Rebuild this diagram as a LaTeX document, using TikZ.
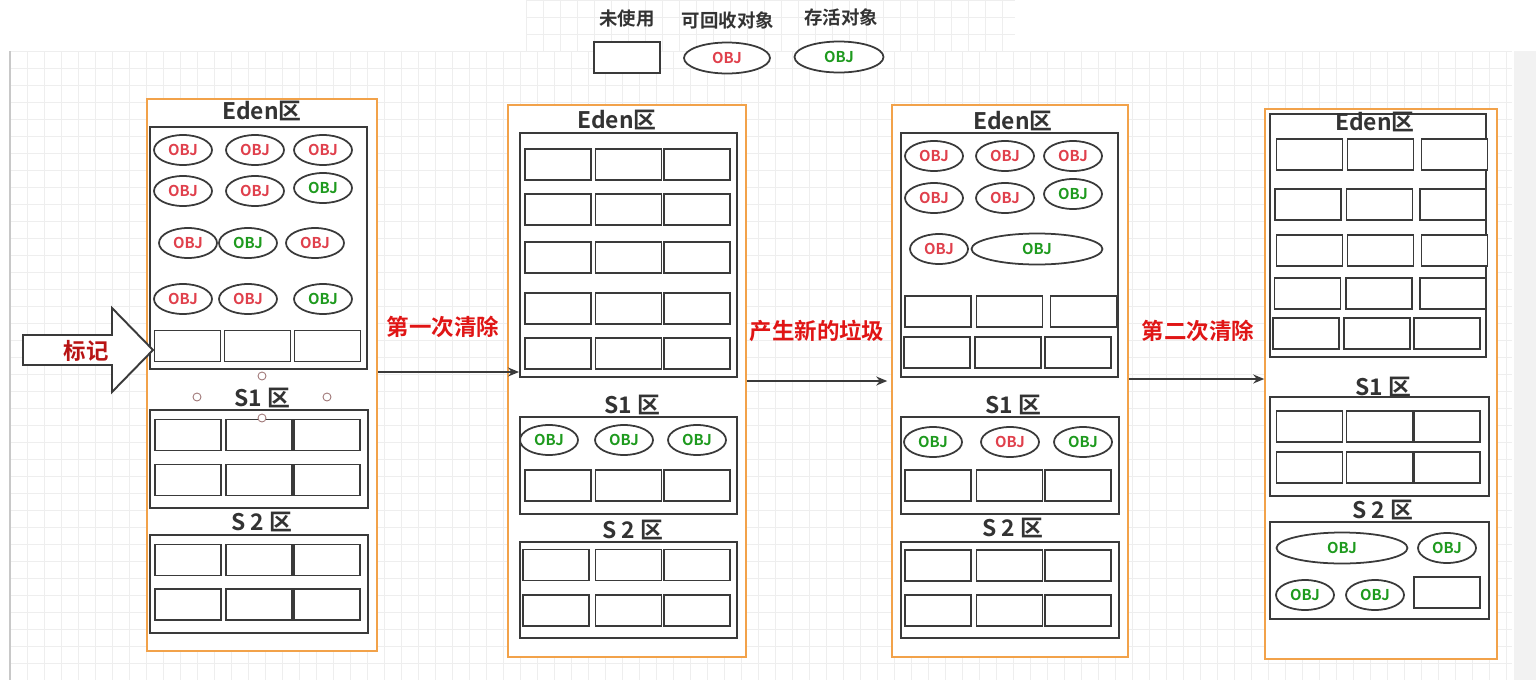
\documentclass[tikz,border=0pt]{standalone}
\usepackage{fontspec}
\setmainfont{Noto Sans CJK SC}[BoldFont={Noto Sans CJK SC Bold}]
\usetikzlibrary{positioning,arrows.meta,shapes.geometric,fit}
\definecolor{boxline}{HTML}{3A3A3A}
\definecolor{orangeline}{HTML}{F2A24A}
\definecolor{gridgray}{HTML}{EEEEEE}
\definecolor{rulergray}{HTML}{C8C8C8}
\definecolor{stripgray}{HTML}{F2F2F2}
\definecolor{deadred}{HTML}{E0404C}
\definecolor{livegreen}{HTML}{1E9A1E}
\definecolor{labelred}{HTML}{E01515}
\definecolor{markred}{HTML}{B81414}
\definecolor{textgray}{HTML}{333333}
\definecolor{handle}{HTML}{A07878}

\begin{document}
\begin{tikzpicture}[x=0.02cm, y=-0.02cm,
  >={Stealth[length=2.2mm, width=1.8mm]},
  panel/.style={draw=orangeline, line width=0.9pt, fill=white, inner sep=0pt},
  zone/.style={draw=boxline, line width=1.1pt, inner sep=0pt},
  cell/.style={draw=boxline, line width=1.05pt, fill=white, minimum width=1.32cm,
               minimum height=0.62cm, inner sep=0pt},
  obj/.style={ellipse, draw=boxline, line width=1pt, fill=white, minimum width=1.16cm,
              minimum height=0.6cm, inner sep=0pt, font=\fontsize{8.5}{8.5}\selectfont\bfseries},
  dead/.style={obj, text=deadred},
  live/.style={obj, text=livegreen},
  area/.style={font=\fontsize{13}{13}\selectfont\bfseries, text=textgray},
  phase/.style={font=\fontsize{12.8}{12.8}\selectfont\bfseries, text=labelred},
  legend/.style={font=\fontsize{10.5}{10.5}\selectfont\bfseries, text=textgray},
  flow/.style={->, draw=boxline, line width=0.8pt},
  gridline/.style={draw=gridgray, line width=0.4pt}]

  % page and grid background
  \fill[white] (0,0) rectangle (1536,680);
  \useasboundingbox (0,0) rectangle (1536,680);
  \foreach \gx in {10,27,...,1512} \draw[gridline] (\gx,51) -- (\gx,680);
  \foreach \gy in {51,68,...,680} \draw[gridline] (10,\gy) -- (1512,\gy);
  \foreach \gx in {526,543,...,1015} \draw[gridline] (\gx,0) -- (\gx,51);
  \foreach \gy in {0,17,34} \draw[gridline] (526,\gy) -- (1015,\gy);
  \fill[stripgray] (1514,51) rectangle (1536,680);
  \draw[rulergray, line width=0.6pt] (10,51) -- (10,680);

  % legend
  \node[legend] (lg1) at (627,19) {未使用};
  \node[legend] (lg2) at (728,20) {可回收对象};
  \node[legend] (lg3) at (841,17) {存活对象};
  \node[cell] (lgcell) at (627,57.5) {};
  \node[dead, minimum width=1.72cm, minimum height=0.62cm] (lgdead) at (727,58) {OBJ};
  \node[live, minimum width=1.78cm, minimum height=0.62cm] (lglive) at (839,57) {OBJ};

  % panel 1: before marking
  \node[panel, fit={(147,99) (377,651)}] (p1) {};
  \node[area] (p1eden) at (262,111) {Eden区};
  \node[zone, fit={(150,127) (367,369)}] (e1) {};
  \foreach \ox/\oy/\os in {183/150/dead, 255/150/dead, 323/150/dead,
                           183/191/dead, 255/191/dead, 323/188/live,
                           188/243/dead, 248/243/live, 315/243/dead,
                           183/299/dead, 248/299/dead, 323/299/live}
    \node[\os] at (\ox,\oy) {OBJ};
  \foreach \cx in {187.5,257.5,327.5} \node[cell] at (\cx,346) {};
  \node[area] (p1s1) at (262,398) {S1 区};
  \node[zone, fit={(150,410) (368,508)}] (s11) {};
  \foreach \cy in {435,480} \foreach \cx in {188,259,327} \node[cell] at (\cx,\cy) {};
  \node[area] (p1s2) at (262,522) {S 2 区};
  \node[zone, fit={(150,535) (368,633)}] (s21) {};
  \foreach \cy in {560,604.5} \foreach \cx in {188,259,327} \node[cell] at (\cx,\cy) {};
  \foreach \hx/\hy in {262/376, 197/397, 327/397, 262/418}
    \draw[handle, fill=white, line width=0.5pt] (\hx,\hy) circle (4);

  % mark arrow
  \draw[boxline, line width=1.1pt, fill=white]
    (23,335) -- (112,335) -- (112,308) -- (153,350) -- (112,392) -- (112,365) -- (23,365) -- cycle;
  \node[phase, text=markred] (mark) at (86,351) {标记};

  % panel 2: after first sweep
  \node[panel, fit={(508,105) (746,657)}] (p2) {};
  \node[area] (p2eden) at (617,120) {Eden区};
  \node[zone, fit={(520,133) (737,377)}] (e2) {};
  \foreach \cy in {164.5,209.5,257.5,308.5,353.5}
    \foreach \cx in {558,628.5,697} \node[cell] at (\cx,\cy) {};
  \node[area] (p2s1) at (632,405) {S1 区};
  \node[zone, fit={(520,417) (737,514)}] (s12) {};
  \foreach \ox in {549,624,697} \node[live] at (\ox,440) {OBJ};
  \foreach \cx in {558,628.5,697} \node[cell] at (\cx,485.5) {};
  \node[area] (p2s2) at (633,530) {S 2 区};
  \node[zone, fit={(520,542) (737,638)}] (s22) {};
  \foreach \cy in {565,610.5} \foreach \cx in {556,628.5,697} \node[cell] at (\cx,\cy) {};

  % panel 3: new garbage
  \node[panel, fit={(892,105) (1128,657)}] (p3) {};
  \node[area] (p3eden) at (1013,121) {Eden区};
  \node[zone, fit={(901,133) (1118,377)}] (e3) {};
  \foreach \ox/\oy/\os in {934/156/dead, 1005/156/dead, 1073/156/dead,
                           934/198/dead, 1005/198/dead, 1073/194/live,
                           939/249/dead}
    \node[\os] at (\ox,\oy) {OBJ};
  \node[live, minimum width=2.62cm, minimum height=0.62cm] (big3) at (1037,249) {OBJ};
  \foreach \cx in {938,1009.5,1083.5} \node[cell] at (\cx,311.5) {};
  \foreach \cx in {937,1008,1078} \node[cell] at (\cx,352.5) {};
  \node[area] (p3s1) at (1013,405) {S1 区};
  \node[zone, fit={(901,417) (1119,514)}] (s13) {};
  \foreach \ox/\os in {933/live, 1010/dead, 1083/live} \node[\os] at (\ox,442) {OBJ};
  \foreach \cx in {938,1009.5,1078} \node[cell] at (\cx,485.5) {};
  \node[area] (p3s2) at (1013,528) {S 2 区};
  \node[zone, fit={(901,542) (1119,638)}] (s23) {};
  \foreach \cy in {565.5,610.5} \foreach \cx in {938,1009.5,1078} \node[cell] at (\cx,\cy) {};

  % panel 4: after second sweep
  \node[panel, fit={(1265,109) (1497,659)}] (p4) {};
  \node[zone, fit={(1270,114) (1486,357)}] (e4) {};
  \node[area] (p4eden) at (1375,122) {Eden区};
  \foreach \cx/\cy in {1309.5/154.5, 1380.5/154.5, 1454.5/154.5,
                       1308/204.5, 1379.5/204.5, 1453/204.5,
                       1309.5/250.5, 1380.5/250.5, 1454.5/250.5,
                       1307.5/293.5, 1379/293.5, 1453/293.5,
                       1306/333.5, 1377/333.5, 1447/333.5}
    \node[cell] at (\cx,\cy) {};
  \node[area] (p4s1) at (1383,387) {S1 区};
  \node[zone, fit={(1270,397) (1489,496)}] (s14) {};
  \foreach \cy in {426.5,467.5} \foreach \cx in {1309.5,1379.5,1447} \node[cell] at (\cx,\cy) {};
  \node[area] (p4s2) at (1383,510) {S 2 区};
  \node[zone, fit={(1270,522) (1489,619)}] (s24) {};
  \node[live, minimum width=2.62cm, minimum height=0.62cm] (big4) at (1342,548) {OBJ};
  \foreach \ox/\oy in {1447/548, 1305/595, 1375/595} \node[live] at (\ox,\oy) {OBJ};
  \node[cell] (free4) at (1447,592.5) {};

  % transitions
  \draw[flow] (p1.east |- 0,372) -- (e2.west |- 0,372);
  \node[phase] (sweep1) at (443,327) {第一次清除};
  \draw[flow] (p2.east |- 0,381) -- ([xshift=-0.08cm]p3.west |- 0,381);
  \node[phase] (alloc) at (817,331) {产生新的垃圾};
  \draw[flow] (p3.east |- 0,379) -- (p4.west |- 0,379);
  \node[phase] (sweep2) at (1198,331) {第二次清除};
\end{tikzpicture}
\end{document}
